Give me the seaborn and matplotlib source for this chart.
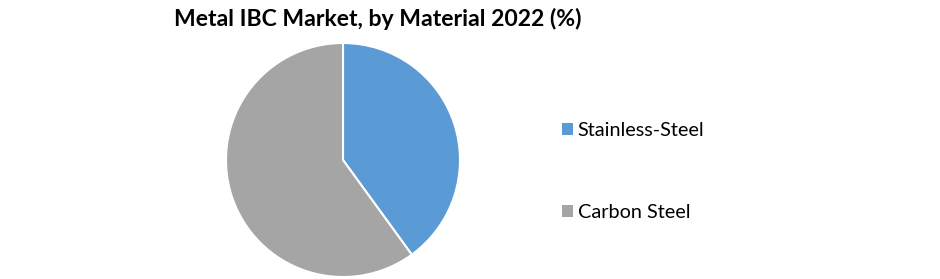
import matplotlib
matplotlib.use("Agg")
import matplotlib.pyplot as plt
import seaborn as sns
from matplotlib.patches import Patch

categories = ["Stainless-Steel", "Carbon Steel"]
shares = [40, 60]
title = "Metal IBC Market, by Material 2022 (%)"

sns.set_theme(style="white")
plt.rcParams['font.family'] = ['Lato', 'DejaVu Sans']
plt.rcParams['text.color'] = 'black'
colors = ["#5B9BD5", "#A5A5A5"]

fig = plt.figure(figsize=(9.4, 2.79), dpi=100)
fig.patch.set_facecolor("white")
ax = fig.add_axes([226/940, 2/279, 234/940, 234/279])
wedges, _ = ax.pie(shares, colors=colors, startangle=90, counterclock=False,
                   radius=1.0,
                   wedgeprops=dict(edgecolor="white", linewidth=1.5))
ax.set_xlim(-1.0, 1.0)
ax.set_ylim(-1.0, 1.0)
ax.set_aspect("equal")
ax.axis("off")

fig.text(378/940, 1 - 19/279, title, ha="center", va="center",
         fontsize=16.6, fontweight="bold", color="black")

handles = [Patch(facecolor=c, edgecolor="none") for c in colors]
leg = fig.legend(handles, categories, loc="center left",
                 bbox_to_anchor=(544/940, 1 - 171.5/279), frameon=False,
                 fontsize=14.3, handlelength=0.55, handleheight=0.55,
                 handletextpad=0.25, labelspacing=3.28)
for t in leg.get_texts():
    t.set_color("black")

fig.savefig("out.png", dpi=100, facecolor="white")
